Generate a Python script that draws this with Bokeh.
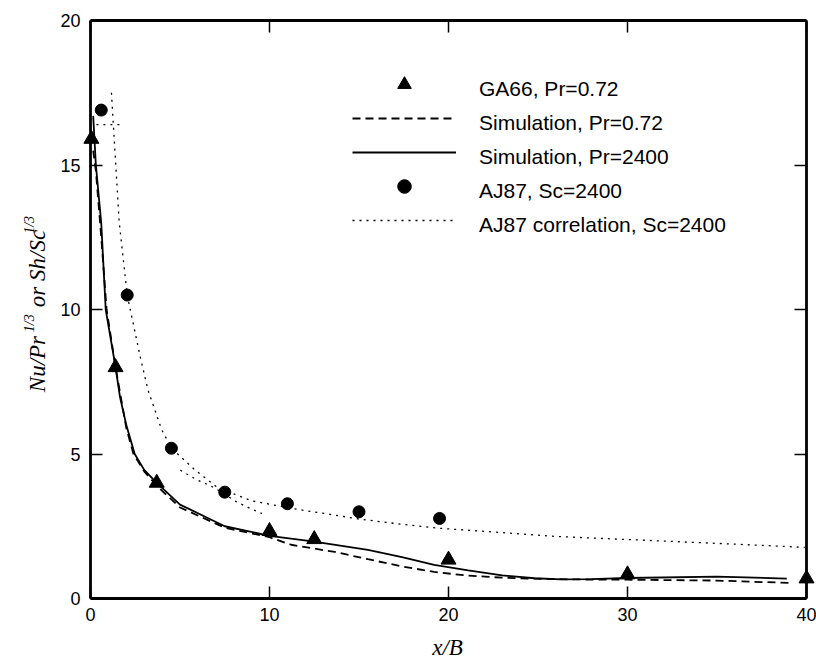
from math import pi
from bokeh.plotting import figure
from bokeh.models import (LinearAxis, Range1d, Legend, LegendItem, Label,
                          FixedTicker, CustomJSTickFormatter)
from bokeh.embed import file_html
from bokeh.resources import INLINE

# ---- data ----
x_ticks = [0, 10, 20, 30, 40]
y_ticks = [0, 5, 10, 15, 20]

ga66_x = [0.05, 1.4, 3.7, 10.0, 12.5, 20.0, 30.0, 40.0]
ga66_y = [15.9, 8.0, 4.0, 2.33, 2.05, 1.34, 0.83, 0.69]

aj87_x = [0.6, 2.05, 4.52, 7.5, 11.0, 15.0, 19.5]
aj87_y = [16.9, 10.5, 5.2, 3.68, 3.28, 3.0, 2.77]

sim072_x = [0.15, 0.3, 0.6, 0.9, 1.4, 2.0, 2.4, 3.0, 3.7, 5.0, 7.5, 10.0,
            11.2, 13.65, 15.5, 17.4, 19.2, 21.1, 23.0, 24.5, 27.0, 30.0, 35.0, 39.0]
sim072_y = [15.5, 14.8, 12.5, 10.0, 8.0, 5.9, 5.0, 4.4, 3.9, 3.15, 2.45, 2.12,
            1.86, 1.61, 1.36, 1.11, 0.92, 0.79, 0.72, 0.69, 0.66, 0.65, 0.62, 0.54]

sim2400_x = [0.15, 0.3, 0.6, 0.85, 1.4, 1.64, 2.0, 2.47, 3.0, 3.7, 5.0, 7.5, 10.0,
             12.4, 15.5, 17.4, 19.2, 21.1, 23.0, 24.8, 26.3, 28.0, 30.0, 35.0, 38.9]
sim2400_y = [16.7, 15.0, 13.0, 10.0, 8.0, 7.0, 6.0, 5.0, 4.45, 4.0, 3.25, 2.5, 2.17,
             1.98, 1.68, 1.43, 1.16, 0.97, 0.80, 0.70, 0.66, 0.67, 0.71, 0.76, 0.69]

corr_x = [1.17, 1.6, 2.05, 2.8, 3.22, 3.97, 4.52, 5.83, 7.1, 9.0, 11.4, 13.3, 15.0,
          17.5, 19.5, 23.0, 25.9, 28.5, 32.3, 36.0, 39.9]
corr_y = [17.5, 13.05, 10.5, 8.3, 7.2, 5.85, 5.2, 4.45, 3.84, 3.38, 3.1, 2.92, 2.75,
          2.56, 2.43, 2.28, 2.15, 2.08, 1.98, 1.88, 1.77]

corr_cap_x = [0.33, 1.77]
corr_cap_y = [16.4, 16.4]

corr_low_x = [5.02, 5.9, 6.73, 7.5, 8.04, 8.8, 9.58]
corr_low_y = [4.44, 4.12, 3.89, 3.62, 3.38, 3.15, 2.94]

legend_labels = ["GA66, Pr=0.72", "Simulation, Pr=0.72", "Simulation, Pr=2400",
                 "AJ87, Sc=2400", "AJ87 correlation, Sc=2400"]

# ---- layout (pixels) ----
W, H = 816, 660
FL, FR, FT, FB = 90, 806, 20, 598          # box edges on the page
X0, X1, Y0, Y1 = 0, 40, 0, 20              # axis extents
sx = (X1 - X0) / (FR - FL)
sy = (Y1 - Y0) / (FB - FT)
x_range = Range1d(X0 - FL * sx, X1 + (W - FR) * sx)
y_range = Range1d(Y0 - (H - FB) * sy, Y1 + FT * sy)

p = figure(width=W, height=H, x_range=x_range, y_range=y_range,
           output_backend="svg", toolbar_location=None, min_border=0)
p.grid.visible = False
p.background_fill_color = "white"
p.border_fill_color = "white"
p.outline_line_color = None

def style_axis(ax, ticks, bounds, loc, show_labels):
    ax.fixed_location = loc
    ax.bounds = bounds
    ax.ticker = FixedTicker(ticks=ticks)
    ax.major_tick_in = 12
    ax.major_tick_out = 0
    ax.minor_tick_line_color = None
    ax.major_tick_line_width = 1.5
    ax.major_tick_line_color = "black"
    ax.axis_line_color = "black"
    ax.axis_line_width = 2.8
    ax.major_label_text_font = "Liberation Sans"
    ax.major_label_text_font_size = "18px"
    ax.major_label_text_color = "black"
    if not show_labels:
        ax.formatter = CustomJSTickFormatter(code="return ''")

style_axis(p.xaxis[0], x_ticks, (X0, X1), Y0, True)
style_axis(p.yaxis[0], y_ticks, (Y0, Y1), X0, True)
p.xaxis[0].major_label_standoff = 9
p.yaxis[0].major_label_standoff = 10

top_ax = LinearAxis()
style_axis(top_ax, x_ticks, (X0, X1), Y1, False)
p.add_layout(top_ax, "above")
right_ax = LinearAxis()
style_axis(right_ax, y_ticks, (Y0, Y1), X1, False)
p.add_layout(right_ax, "right")

# ---- data renderers ----
r_ga = p.scatter(ga66_x, ga66_y, marker="triangle", size=15, color="black")
r_d = p.line(sim072_x, sim072_y, line_dash="8 5", line_width=1.8, color="black")
r_s = p.line(sim2400_x, sim2400_y, line_width=1.8, color="black")
r_aj = p.scatter(aj87_x, aj87_y, marker="circle", size=12, color="black")
dot = dict(line_dash="2 5", line_width=1.3, color="black")
r_c = p.line(corr_x, corr_y, **dot)
p.line(corr_cap_x, corr_cap_y, **dot)
p.line(corr_low_x, corr_low_y, **dot)

# ---- legend: glyph samples and their texts (texts sit a little lower) ----
def make_legend(items, loc):
    lg = Legend(items=items, location=loc)
    lg.glyph_width = 104
    lg.glyph_height = 34
    lg.label_height = 20
    lg.spacing = 0
    lg.padding = 0
    lg.margin = 0
    lg.border_line_color = None
    lg.background_fill_alpha = 0
    lg.label_standoff = 23
    lg.label_text_font = "Liberation Sans"
    lg.label_text_font_size = "21px"
    lg.label_text_color = "black"
    p.add_layout(lg)
    return lg

glyph_renderers = [r_ga, r_d, r_s, r_aj, r_c]
make_legend([LegendItem(label="", renderers=[r]) for r in glyph_renderers], (352, 423))

blank = p.line([], [], line_alpha=0)
make_legend([LegendItem(label=t, renderers=[blank]) for t in legend_labels], (352, 418))

# ---- axis titles (italic serif with superscripts) ----
serif = "Liberation Serif"
def ylab(text, y, x, size):
    p.add_layout(Label(x=x, y=y, x_units="screen", y_units="screen", text=text,
                       angle=pi / 2, text_font=serif, text_font_style="italic",
                       text_font_size=size, text_align="left",
                       text_baseline="alphabetic", text_color="black"))

ylab("Nu/Pr", 268.3, 37, "23px")
ylab("1/3", 328.3, 29, "14px")
ylab("or Sh/Sc", 353.3, 37, "23px")
ylab("1/3", 426.7, 29, "14px")

p.add_layout(Label(x=447, y=13, x_units="screen", y_units="screen", text="x/B",
                   text_font=serif, text_font_style="italic", text_font_size="23px",
                   text_align="center", text_baseline="middle", text_color="black"))

open("out.html", "w").write(file_html(p, INLINE))
